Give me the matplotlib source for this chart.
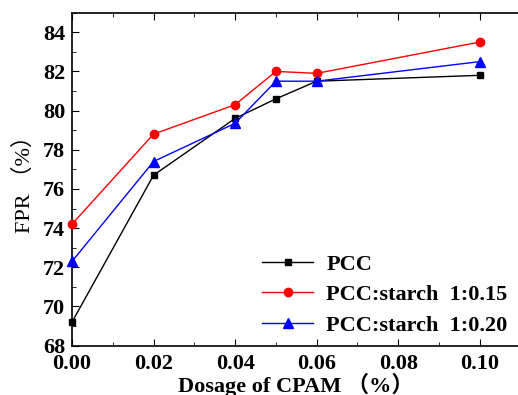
import matplotlib
matplotlib.use("Agg")
import matplotlib.pyplot as plt
from matplotlib.ticker import MultipleLocator, FormatStrFormatter

plt.rcParams['font.family'] = ['Liberation Serif', 'Noto Sans CJK SC']
plt.rcParams['font.weight'] = 'bold'

dosage = [0.00, 0.02, 0.04, 0.05, 0.06, 0.10]
pcc = [69.2, 76.7, 79.6, 80.6, 81.5, 81.8]
pcc_015 = [74.2, 78.8, 80.3, 82.0, 81.9, 83.5]
pcc_020 = [72.3, 77.4, 79.35, 81.5, 81.5, 82.5]
labels = ['PCC', 'PCC:starch  1:0.15', 'PCC:starch  1:0.20']

fig = plt.figure(figsize=(5.18, 3.95), dpi=100)
ax = fig.add_axes([0.139, 0.125, 0.866, 0.843])

ax.plot(dosage, pcc, color='black', marker='s', markersize=4.5, lw=1, label=labels[0], clip_on=False, zorder=3)
ax.plot(dosage, pcc_015, color='red', marker='o', markersize=6, lw=1, label=labels[1], clip_on=False, zorder=3)
ax.plot(dosage, pcc_020, color='blue', marker='^', markersize=6.5, lw=1, label=labels[2], clip_on=False, zorder=3)

ax.set_xlim(0, 0.11)
ax.set_ylim(68, 85)
ax.xaxis.set_major_locator(MultipleLocator(0.02))
ax.xaxis.set_minor_locator(MultipleLocator(0.01))
ax.yaxis.set_major_locator(MultipleLocator(2))
ax.yaxis.set_minor_locator(MultipleLocator(1))
ax.xaxis.set_major_formatter(FormatStrFormatter('%.2f'))
ax.tick_params(which='both', direction='in', top=True, right=False, labelsize=16)
ax.tick_params(axis='x', which='major', pad=6)
ax.tick_params(axis='y', which='major', pad=5)
ax.tick_params(which='major', length=5)
ax.tick_params(which='minor', length=3)
for s in ax.spines.values():
    s.set_linewidth(1.2)
ax.spines['right'].set_visible(False)

ax.set_ylabel('FPR （%）', fontsize=16, fontweight='normal', labelpad=6)
ax.set_xlabel('Dosage of CPAM （%）', fontsize=16, fontweight='bold', labelpad=-1)

ax.legend(loc='lower left', bbox_to_anchor=(0.4235, 0.03), frameon=False, fontsize=16,
          handlelength=2.3, handletextpad=0.6, labelspacing=0.45,
          borderaxespad=0, borderpad=0)

fig.savefig('out.png', dpi=100)
